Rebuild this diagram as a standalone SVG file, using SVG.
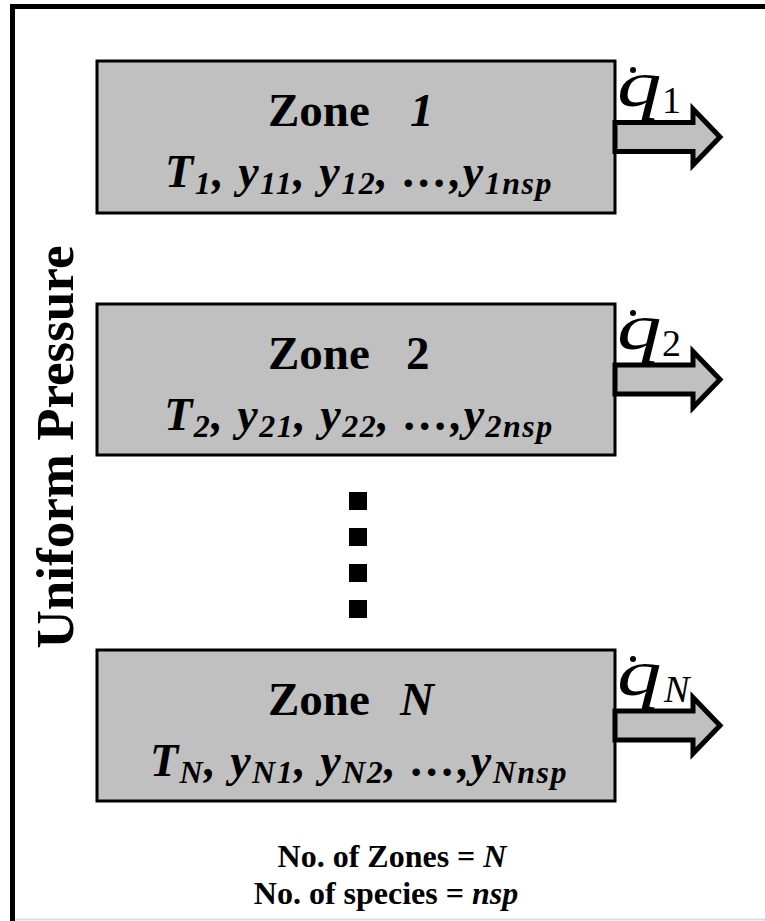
<svg xmlns="http://www.w3.org/2000/svg" width="765" height="921" viewBox="0 0 765 921">
<style>
.box{fill:#c0c0c0;stroke:#000;stroke-width:3}
.arrow{fill:#c0c0c0;stroke:#000;stroke-width:5;stroke-linejoin:miter;stroke-miterlimit:10}
.t{font-family:"Liberation Serif","Times New Roman",serif;fill:#000}
.title{font-size:47px;font-weight:bold}
.vars{font-size:46px;font-weight:bold;font-style:italic;letter-spacing:1.5px}
.sub{font-size:32px}
.q{font-size:66px;font-style:italic;font-weight:normal}
.qs{font-size:38px;font-style:normal}
.note{font-size:32px;font-weight:bold}
.it{font-style:italic}
</style>
<rect x="12.5" y="6.5" width="800" height="1000" fill="#fff" stroke="#000" stroke-width="5"/>
<line x1="15" y1="919.5" x2="765" y2="919.5" stroke="#ddd" stroke-width="2"/>
<text class="t" font-size="53" font-weight="bold" text-anchor="middle" transform="translate(73,447) rotate(-90)">Uniform Pressure</text>

<g id="zone1">
<rect class="box" x="97" y="61" width="518" height="152"/>
<text class="t title" x="268" y="126">Zone<tspan class="it" x="410">1</tspan></text>
<text class="t vars" x="359" y="187" text-anchor="middle">T<tspan class="sub" dy="7">1</tspan><tspan dy="-7">, y</tspan><tspan class="sub" dy="7">11</tspan><tspan dy="-7">, y</tspan><tspan class="sub" dy="7">12</tspan><tspan dy="-7">, …,y</tspan><tspan class="sub" dy="7">1nsp</tspan></text>
</g>
<g id="zone2">
<rect class="box" x="97" y="304" width="518" height="151"/>
<text class="t title" x="268" y="369">Zone<tspan x="406">2</tspan></text>
<text class="t vars" x="359" y="430" text-anchor="middle">T<tspan class="sub" dy="7">2</tspan><tspan dy="-7">, y</tspan><tspan class="sub" dy="7">21</tspan><tspan dy="-7">, y</tspan><tspan class="sub" dy="7">22</tspan><tspan dy="-7">, …,y</tspan><tspan class="sub" dy="7">2nsp</tspan></text>
</g>
<g id="zoneN">
<rect class="box" x="97" y="650" width="518" height="151"/>
<text class="t title" x="268" y="715">Zone<tspan class="it" x="400">N</tspan></text>
<text class="t vars" x="359" y="776" text-anchor="middle">T<tspan class="sub" dy="7">N</tspan><tspan dy="-7">, y</tspan><tspan class="sub" dy="7">N1</tspan><tspan dy="-7">, y</tspan><tspan class="sub" dy="7">N2</tspan><tspan dy="-7">, …,y</tspan><tspan class="sub" dy="7">Nnsp</tspan></text>
</g>

<g id="dots" fill="#000">
<rect x="349" y="492" width="18" height="18"/>
<rect x="349" y="528" width="18" height="18"/>
<rect x="349" y="564" width="18" height="18"/>
<rect x="349" y="600" width="18" height="18"/>
</g>

<g id="connectors">
<polygon class="arrow" points="615,122.5 693,122.5 693,109 720,137 693,165 693,151.5 615,151.5"/>
<polygon class="arrow" points="615,365 693,365 693,351.5 720,379.5 693,407.5 693,394 615,394"/>
<polygon class="arrow" points="615,711 693,711 693,697.5 720,725.5 693,753.5 693,740 615,740"/>
</g>
<g id="q1">
<circle cx="633" cy="70" r="3"/>
<text class="t q" transform="translate(617,106) scale(1.35,1)">q</text>
<text class="t qs" x="662" y="113">1</text>
</g>
<g id="q2">
<circle cx="633" cy="313" r="3"/>
<text class="t q" transform="translate(617,349) scale(1.35,1)">q</text>
<text class="t qs" x="662" y="356">2</text>
</g>
<g id="qN">
<circle cx="633" cy="659" r="3"/>
<text class="t q" transform="translate(617,695) scale(1.35,1)">q</text>
<text class="t qs it" x="664" y="702">N</text>
</g>

<g id="legend">
<text class="t note" x="392" y="867" text-anchor="middle">No. of Zones = <tspan class="it">N</tspan></text>
<text class="t note" x="386" y="904" text-anchor="middle">No. of species = <tspan class="it">nsp</tspan></text>
</g>
</svg>
